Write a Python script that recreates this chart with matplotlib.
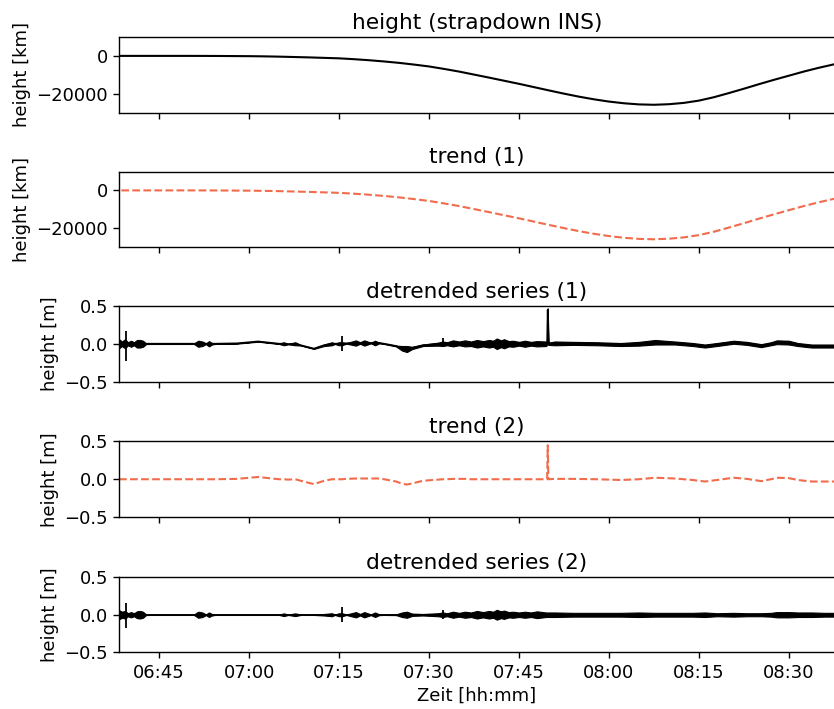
import datetime as dt
import matplotlib
matplotlib.use("Agg")
import matplotlib.pyplot as plt
import matplotlib.dates as mdates

# --------------------------------------
# DATA (minutes after 06:00)
# --------------------------------------
# strapdown INS height and its first trend, read every 2.5 minutes
ins_minutes = [35, 37.5, 40, 42.5, 45, 47.5, 50, 52.5, 55, 57.5, 60, 62.5,
               65, 67.5, 70, 72.5, 75, 77.5, 80, 82.5, 85, 87.5, 90, 92.5,
               95, 97.5, 100, 102.5, 105, 107.5, 110, 112.5, 115, 117.5,
               120, 122.5, 125, 127.5, 130, 132.5, 135, 137.5, 140, 142.5,
               145, 147.5, 150, 152.5, 155, 157.5, 160]
ins_height = [0, 0, 0, 0, 0, 0, 0, -20, -50, -100, -150, -250,
              -400, -600, -800, -1050, -1300, -1750, -2300, -2950, -3700,
              -4600, -5600, -6900, -8300, -9900, -11500, -13150, -14800,
              -16550, -18300, -20000, -21600, -23000, -24200, -25100, -25700,
              -25900, -25600, -24900, -23700, -21900, -19700, -17400, -15000,
              -12700, -10500, -8300, -6300, -4500, -3000]
trend1 = [0, 0, 0, 0, 0, 0, 0, -20, -50, -100, -150, -250,
          -400, -600, -800, -1050, -1300, -1750, -2300, -2950, -3700,
          -4600, -5600, -6900, -8300, -9900, -11500, -13150, -14800,
          -16550, -18300, -20000, -21600, -23000, -24200, -25100, -25700,
          -25900, -25600, -24900, -23700, -21900, -19700, -17400, -15000,
          -12700, -10500, -8300, -6300, -4500, -3000]

# second trend (slow wobble) and noise envelopes of the detrended series
knot_minutes = [38.3, 38.8, 39.3, 39.8, 40.3, 40.8, 41.3, 41.8, 42.3, 42.8,
                43.3, 50.8, 51.5, 52.2, 52.8, 53.3, 53.8, 54.3, 58.0, 61.5,
                65.0, 65.8, 66.5, 67.7, 68.6, 70.8, 72.5, 73.8, 74.3, 75.0,
                75.5, 76.2, 77.8, 78.5, 79.2, 80.3, 81.0, 81.7, 82.5, 84.5,
                85.5, 86.3, 87.2, 89.0, 91.5, 92.3, 93.0, 94.0, 95.0, 96.0,
                97.0, 98.0, 99.0, 100.0, 100.7, 101.3, 102.0, 102.5, 103.3,
                104.0, 105.0, 106.0, 107.0, 108.0, 109.5, 109.7, 109.8, 109.9,
                111.0, 114.0, 118.0, 122.0, 125.0, 127.7, 131.0, 134.0, 136.0,
                138.0, 140.8, 143.0, 145.4, 147.0, 148.0, 150.0, 151.5, 153.8,
                156.0, 158.0]
trend2 = [0, 0, 0, 0, 0, 0, 0, 0, 0, 0,
          0, 0, 0, 0, 0, 0, 0, 0, 0.005, 0.03,
          0.0, 0.0, -0.005, 0.0, -0.02, -0.065, -0.02, 0.0, 0.0, 0.0,
          0.0, 0.005, 0.01, 0.01, 0.01, 0.01, 0.01, 0.01, 0.0, -0.03,
          -0.06, -0.07, -0.055, -0.02, -0.005, 0.0, 0.0, 0.005, 0.005, 0.005,
          0.0, 0.0, 0.0, 0.0, 0.0, 0.0, 0.0, 0.0, 0.0,
          0.0, 0.0, 0.0, 0.0, 0.0, 0.0, 0.0, 0.45, 0.0,
          0.005, 0.005, 0.0, -0.01, 0.0, 0.02, 0.01, -0.01, -0.03,
          -0.01, 0.02, 0.005, -0.025, 0.0, 0.02, 0.015, -0.01, -0.03,
          -0.03, -0.03]
noise1 = [0.06, 0.03, 0.06, 0.02, 0.04, 0.02, 0.05, 0.05, 0.04, 0.005,
          0.003, 0.003, 0.04, 0.03, 0.005, 0.035, 0.01, 0.003, 0.003, 0.003,
          0.003, 0.02, 0.003, 0.02, 0.003, 0.003, 0.01, 0.02, 0.003, 0.02,
          0.02, 0.003, 0.035, 0.01, 0.035, 0.005, 0.03, 0.005, 0.003, 0.005,
          0.03, 0.04, 0.015, 0.01, 0.02, 0.03, 0.02, 0.04, 0.025, 0.04,
          0.03, 0.05, 0.035, 0.05, 0.04, 0.07, 0.045, 0.06, 0.035,
          0.04, 0.025, 0.04, 0.025, 0.035, 0.03, 0.015, 0.02, 0.015,
          0.025, 0.02, 0.02, 0.02, 0.025, 0.03, 0.02, 0.02, 0.02,
          0.02, 0.02, 0.02, 0.02, 0.02, 0.025, 0.025, 0.02, 0.02,
          0.02, 0.02]
noise2 = [0.06, 0.04, 0.05, 0.02, 0.035, 0.02, 0.045, 0.05, 0.04, 0.005,
          0.003, 0.003, 0.04, 0.03, 0.005, 0.03, 0.01, 0.003, 0.003, 0.003,
          0.003, 0.018, 0.003, 0.018, 0.003, 0.003, 0.01, 0.02, 0.003, 0.02,
          0.02, 0.003, 0.035, 0.01, 0.035, 0.005, 0.03, 0.005, 0.003, 0.005,
          0.03, 0.04, 0.015, 0.01, 0.02, 0.03, 0.02, 0.04, 0.025, 0.04,
          0.03, 0.05, 0.035, 0.05, 0.04, 0.065, 0.045, 0.055, 0.035,
          0.04, 0.03, 0.04, 0.03, 0.045, 0.03, 0.03, 0.03, 0.03,
          0.03, 0.025, 0.025, 0.025, 0.03, 0.025, 0.025, 0.025, 0.03,
          0.02, 0.025, 0.02, 0.02, 0.025, 0.035, 0.035, 0.03, 0.03,
          0.025, 0.025]

# isolated spikes in the detrended series
spike_minutes = [39.5, 75.5, 92.3]
spike1_low = [-0.23, -0.10, -0.04]
spike1_high = [0.17, 0.10, 0.08]
spike2_low = [-0.18, -0.10, -0.05]
spike2_high = [0.16, 0.10, 0.06]

titles = ["height (strapdown INS)", "trend (1)", "detrended series (1)",
          "trend (2)", "detrended series (2)"]
ylabels = ["height [km]", "height [km]", "height [m]", "height [m]", "height [m]"]

# --------------------------------------
# HELPERS
# --------------------------------------
base = dt.datetime(2021, 1, 1, 6, 0)


def to_time(minutes):
    return [base + dt.timedelta(minutes=m) for m in minutes]


plt.rcParams.update({
    "font.size": 13,
    "axes.titlesize": 15.6,
    "axes.linewidth": 1.0,
    "xtick.major.size": 4.5,
    "ytick.major.size": 4.5,
    "xtick.major.width": 1.0,
    "ytick.major.width": 1.0,
})

fig = plt.figure(figsize=(8.34, 7.09), dpi=100)
left, width, height = 0.1427, 0.8585, 0.1065
bottoms = [0.8413, 0.6516, 0.4619, 0.2708, 0.0797]
axes = []
for b in bottoms:
    ax = fig.add_axes([left, b, width, height], sharex=axes[0] if axes else None)
    axes.append(ax)

orange = "#f26b4a"
t_ins = to_time(ins_minutes)
t_knot = to_time(knot_minutes)
t_spike = to_time(spike_minutes)

axes[0].plot(t_ins, ins_height, color="black", lw=1.5)
axes[1].plot(t_ins, trend1, color=orange, lw=1.5, ls="--")

lo1 = [c - a for c, a in zip(trend2, noise1)]
hi1 = [c + a for c, a in zip(trend2, noise1)]
axes[2].fill_between(t_knot, lo1, hi1, color="black", lw=0.8)
axes[2].plot(t_knot, trend2, color="black", lw=1.3)
axes[2].vlines(t_spike, spike1_low, spike1_high, color="black", lw=1.3)

axes[3].plot(t_knot, trend2, color=orange, lw=1.5, ls="--")

zero = [0.0] * len(knot_minutes)
lo2 = [-a for a in noise2]
axes[4].fill_between(t_knot, lo2, noise2, color="black", lw=0.8)
axes[4].plot(t_knot, zero, color="black", lw=1.3)
axes[4].vlines(t_spike, spike2_low, spike2_high, color="black", lw=1.3)

for i, ax in enumerate(axes):
    ax.set_title(titles[i])
    ax.set_ylabel(ylabels[i])
    if i < 2:
        ax.set_ylim(-30000, 10000)
        ax.set_yticks([-20000, 0])
    else:
        ax.set_ylim(-0.5, 0.5)
        ax.set_yticks([-0.5, 0.0, 0.5])
    if i < 4:
        ax.tick_params(labelbottom=False)

axes[4].set_xlim(base + dt.timedelta(minutes=38.3), base + dt.timedelta(minutes=157.7))
axes[4].xaxis.set_major_locator(mdates.MinuteLocator(byminute=[0, 15, 30, 45]))
axes[4].xaxis.set_major_formatter(mdates.DateFormatter("%H:%M"))
axes[4].set_xlabel("Zeit [hh:mm]")

fig.savefig("out.png", dpi=100)
